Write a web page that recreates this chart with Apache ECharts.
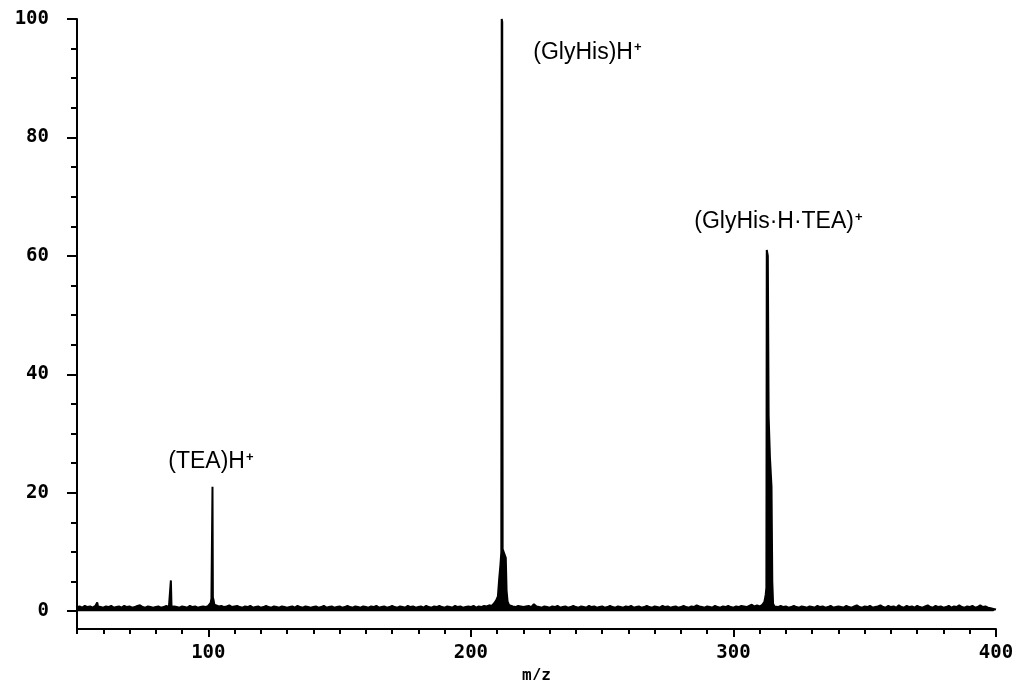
<!DOCTYPE html>
<html><head><meta charset="utf-8">
<script src="https://cdn.jsdelivr.net/npm/echarts@6/dist/echarts.min.js"></script>
<style>html,body{margin:0;padding:0;background:#fff}#c{width:1018px;height:680px}</style>
</head><body><div id="c"></div>
<script>
// ---- data ----
const baselineStart = 50; // m/z of first baseline sample, one sample per m/z unit
const baselineValues = [
  0.7,0.8,0.6,0.9,0.7,0.8,0.6,0.9,0.8,0.7,
  0.6,0.8,0.7,0.9,0.6,0.7,0.8,0.6,0.9,0.7,
  0.8,0.6,0.7,0.9,1.0,0.7,0.6,0.8,0.7,0.6,
  0.7,0.8,0.6,0.7,0.9,0.7,0.6,0.8,0.7,0.6,
  0.8,0.7,0.6,0.9,0.7,0.8,0.6,0.7,0.8,0.7,
  0.9,1.0,1.1,0.9,0.8,0.9,0.7,0.8,1.0,0.7,
  0.8,0.9,0.7,0.6,0.8,0.7,0.9,0.6,0.7,0.8,
  0.6,0.7,0.9,0.7,0.6,0.8,0.7,0.6,0.8,0.7,
  0.6,0.7,0.8,0.6,0.9,0.7,0.6,0.8,0.7,0.6,
  0.7,0.8,0.6,0.7,0.9,0.6,0.7,0.8,0.6,0.7,
  0.8,0.6,0.7,0.9,0.7,0.6,0.8,0.7,0.6,0.8,
  0.7,0.6,0.8,0.7,0.9,0.6,0.7,0.8,0.6,0.7,
  0.9,0.7,0.6,0.8,0.7,0.6,0.9,0.7,0.8,0.6,
  0.7,0.8,0.6,0.9,0.7,0.6,0.8,0.7,0.9,0.7,
  0.6,0.8,0.7,0.6,0.9,0.7,0.8,0.6,0.7,0.8,
  0.7,0.9,0.6,0.8,0.7,0.9,0.8,1.0,1.2,1.5,
  2.5,4.0,6.0,3.0,1.3,0.9,0.8,0.7,0.9,0.8,
  0.7,0.8,0.9,0.7,1.2,0.8,0.7,0.6,0.8,0.7,
  0.6,0.8,0.7,0.9,0.6,0.7,0.8,0.6,0.7,0.9,
  0.7,0.6,0.8,0.7,0.6,0.9,0.7,0.8,0.6,0.7,
  0.8,0.6,0.7,0.9,0.7,0.6,0.8,0.7,0.6,0.8,
  0.7,0.9,0.6,0.7,0.8,0.6,0.7,0.9,0.7,0.6,
  0.8,0.7,0.6,0.9,0.7,0.8,0.6,0.7,0.8,0.6,
  0.7,0.9,0.7,0.6,0.8,0.7,1.0,0.8,0.7,0.6,
  0.8,0.7,0.6,0.9,0.7,0.6,0.8,0.7,0.9,0.7,
  0.6,0.8,0.7,0.9,0.8,0.7,0.9,1.1,0.8,1.0,
  1.2,1.5,2.5,5.0,1.5,0.9,0.8,0.7,0.9,0.7,
  0.8,0.6,0.7,0.9,0.7,0.6,0.8,0.7,0.6,0.8,
  0.7,0.6,0.9,0.7,0.8,0.6,0.7,0.9,0.6,0.7,
  0.8,0.7,0.6,0.9,0.7,0.6,0.8,1.0,0.7,0.6,
  0.8,0.7,0.9,0.6,0.7,0.8,1.0,0.7,0.6,0.9,
  0.7,0.8,0.6,1.0,0.7,0.6,0.9,0.7,0.8,0.6,
  0.9,0.7,0.6,0.8,1.0,0.7,0.6,0.9,0.7,0.8,
  0.6,0.7,0.9,0.6,0.8,0.7,1.0,0.7,0.6,0.8,
  0.7,0.9,0.6,0.7,1.0,0.7,0.8,0.6,0.5,0.4,
  0.3
];
// peak profiles as [m/z, relative intensity]
const peak58  = [[57.4,0.7],[57.7,1.5],[58.0,0.8]];
const peak86  = [[85.5,0.7],[85.75,5.2],[86.0,0.7]];
const peak102 = [[100.5,0.9],[100.9,1.4],[101.2,2.1],[101.45,2.2],[101.6,21],[101.75,2.3],[102.0,1.9],[102.3,1.1],[102.7,0.8]];
const peak212 = [[208.0,0.9],[208.8,1.3],[209.6,1.8],[210.3,2.5],[210.8,5.5],[211.3,8],[211.6,10],[211.75,100],[211.95,99.5],[212.1,10.5],[212.5,10],[212.9,9.8],[213.3,9],[213.6,3.5],[214.0,1.6],[214.6,1.0],[215.2,0.8]];
const peak313 = [[310.0,0.8],[311.0,1.1],[311.8,1.6],[312.3,2.8],[312.55,4],[312.7,61],[313.1,60],[313.4,33],[313.9,26],[314.5,21],[314.8,5],[315.1,1.3],[315.6,0.8]];

const annotationTexts = ['(TEA)H', '(GlyHis)H', '(GlyHis\u00B7H\u00B7TEA)'];
const annotationMz    = [84.4, 223.4, 284.7];
const annotationInt   = [25.2, 94.4, 65.7];

const xMajorTicks = [100, 200, 300, 400];
const xMinorTicks = [50,60,70,80,90,100,110,120,130,140,150,160,170,180,190,200,210,220,230,240,250,260,270,280,290,300,310,320,330,340,350,360,370,380,390,400];
const yMajorTicks = [0, 20, 40, 60, 80, 100];
const yMinorTicks = [0,5,10,15,20,25,30,35,40,45,50,55,60,65,70,75,80,85,90,95,100];

// ---- build ----
const peaks = [peak58, peak86, peak102, peak212, peak313];
function buildSpectrum() {
  const pts = [];
  baselineValues.forEach((v, i) => {
    const mz = baselineStart + i;
    const inside = peaks.some(p => mz >= p[0][0] && mz <= p[p.length - 1][0]);
    if (!inside) pts.push([mz, v]);
  });
  peaks.forEach(p => p.forEach(q => pts.push(q)));
  pts.sort((a, b) => a[0] - b[0]);
  return pts;
}
const annData = annotationTexts.map((t, i) => ({ name: t, value: [annotationMz[i], annotationInt[i]] }));

const ink = '#000';
const mono = 'DejaVu Sans Mono';
const chart = echarts.init(document.getElementById('c'), null, { renderer: 'canvas' });
chart.setOption({
  animation: false,
  backgroundColor: '#fff',
  grid: { left: 77, right: 22, top: 19, bottom: 51, containLabel: false, outerBoundsMode: 'none' },
  xAxis: [
    {
      type: 'value', min: 50, max: 400, position: 'bottom',
      name: 'm/z', nameLocation: 'middle', nameGap: 35,
      nameTextStyle: { fontFamily: mono, fontWeight: 'bold', fontSize: 16, color: ink },
      axisLine: { show: true, onZero: false, lineStyle: { color: ink, width: 2 } },
      axisTick: { show: true, inside: false, length: 8, customValues: xMajorTicks, lineStyle: { color: ink, width: 2 } },
      axisLabel: { show: true, customValues: xMajorTicks, margin: 15, fontFamily: mono, fontWeight: 'bold', fontSize: 19, color: ink },
      splitLine: { show: false }
    },
    {
      type: 'value', min: 50, max: 400, position: 'bottom', offset: 0,
      axisLine: { show: false, onZero: false },
      axisTick: { show: true, inside: false, length: 5, customValues: xMinorTicks, lineStyle: { color: ink, width: 2 } },
      axisLabel: { show: false },
      splitLine: { show: false }
    }
  ],
  yAxis: [
    {
      type: 'value', min: -3, max: 100, position: 'left',
      axisLine: { show: true, onZero: false, lineStyle: { color: ink, width: 2 } },
      axisTick: { show: true, inside: false, length: 10, customValues: yMajorTicks, lineStyle: { color: ink, width: 2 } },
      axisLabel: { show: true, customValues: yMajorTicks, margin: 28, fontFamily: mono, fontWeight: 'bold', fontSize: 19, color: ink },
      splitLine: { show: false }
    },
    {
      type: 'value', min: -3, max: 100, position: 'left', offset: 0,
      axisLine: { show: false, onZero: false },
      axisTick: { show: true, inside: false, length: 6, customValues: yMinorTicks, lineStyle: { color: ink, width: 2 } },
      axisLabel: { show: false },
      splitLine: { show: false }
    }
  ],
  series: [
    {
      type: 'line', xAxisIndex: 0, yAxisIndex: 0,
      data: buildSpectrum(), symbol: 'none', showSymbol: false, sampling: 'none',
      lineStyle: { color: ink, width: 2 },
      areaStyle: { color: ink, opacity: 1 },
      silent: true, z: 3
    },
    {
      type: 'scatter', xAxisIndex: 0, yAxisIndex: 0,
      data: annData, symbol: 'circle', symbolSize: 2, itemStyle: { color: 'rgba(0,0,0,0)' },
      label: {
        show: true, position: 'right', distance: 0, color: ink, opacity: 1,
        formatter: p => '{t|' + p.name + '}{s|+}',
        rich: {
          t: { fontFamily: 'Liberation Sans', fontSize: 23, color: ink, opacity: 1 },
          s: { fontFamily: 'Liberation Sans', fontSize: 13, fontWeight: 'bold', color: ink, opacity: 1, verticalAlign: 'top', padding: [0, 0, 9, 1] }
        }
      },
      labelLayout: { hideOverlap: false },
      silent: true, z: 4
    }
  ]
});
</script>
</body></html>
